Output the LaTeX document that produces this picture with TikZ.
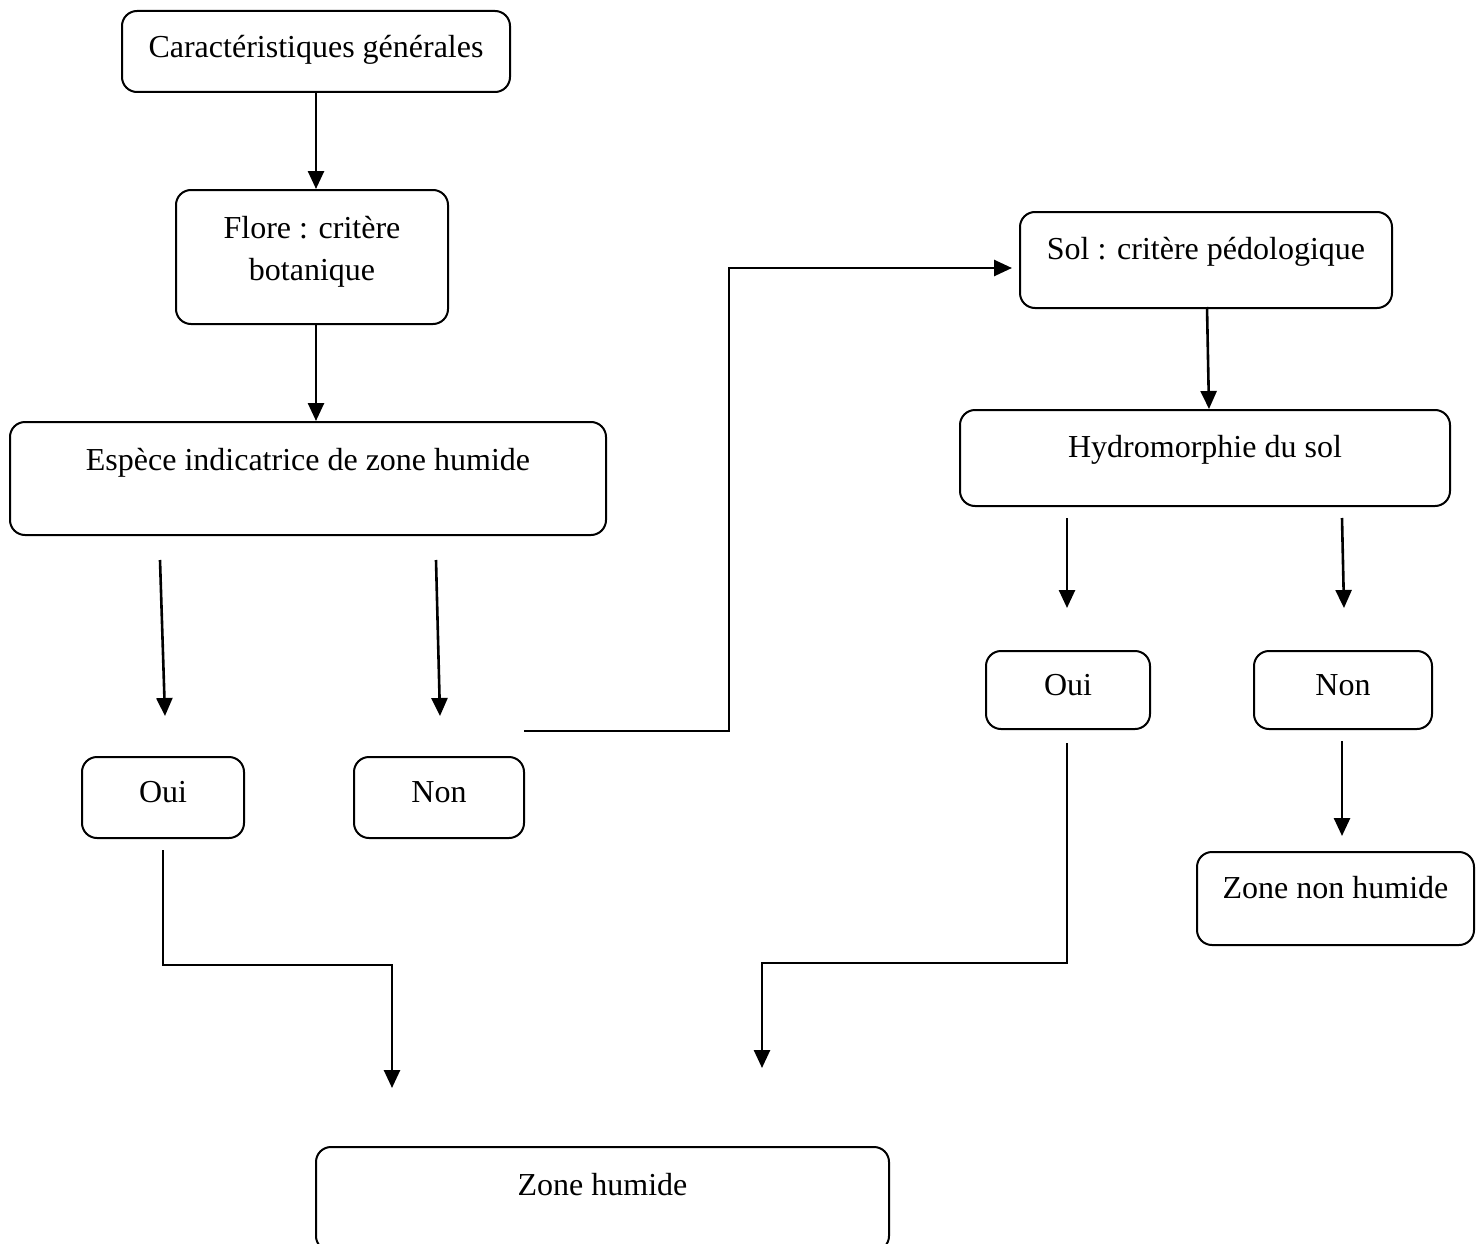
\documentclass[tikz,border=0pt]{standalone}
\usepackage{fontspec}
\setmainfont{Liberation Serif}
\usetikzlibrary{arrows.meta}
\begin{document}
\begin{tikzpicture}[x=1pt,y=-1pt,
  box/.style={draw, line width=2pt, rounded corners=15pt, anchor=north,
    align=center, inner xsep=0pt, text height=24pt,
    font=\fontsize{32}{42}\selectfont},
  flow/.style={line width=2.6pt, -{Triangle[length=18pt,width=16pt]}},
  elbow/.style={flow, rounded corners=0pt}]
\useasboundingbox (0,0) rectangle (1480,1244);

% left branch: botanical criterion
\node[box, minimum width=388pt, inner ysep=23pt, text depth=11pt] (gen) at (316,10) {Caractéristiques générales};
\node[box, minimum width=272pt, inner ysep=24pt, text height=66pt, text depth=20pt] (flore) at (312,189) {Flore : critère\\botanique};
\node[box, minimum width=596pt, inner ysep=24pt, text depth=41pt] (espece) at (308,421) {Espèce indicatrice de zone humide};
\node[box, minimum width=162pt, inner ysep=21pt, text depth=15pt] (ouiL) at (163,756) {Oui};
\node[box, minimum width=170pt, inner ysep=21pt, text depth=15pt] (nonL) at (439,756) {Non};

% right branch: soil criterion
\node[box, minimum width=372pt, inner ysep=23pt, text depth=26pt] (sol) at (1206,211) {Sol : critère pédologique};
\node[box, minimum width=490pt, inner ysep=23pt, text depth=26pt] (hydro) at (1205,409) {Hydromorphie du sol};
\node[box, minimum width=164pt, inner ysep=20pt, text depth=14pt] (ouiR) at (1068,650) {Oui};
\node[box, minimum width=178pt, inner ysep=20pt, text depth=14pt] (nonR) at (1343,650) {Non};
\node[box, minimum width=277pt, inner ysep=22pt, text depth=25pt] (znh) at (1335.5,851) {Zone non humide};

% outcome
\node[box, minimum width=573pt, inner ysep=24pt, text depth=32pt] (zh) at (602.5,1146) {Zone humide};

% free ends of the connectors
\coordinate (eA) at (160,560);  \coordinate (eAt) at (165,716);
\coordinate (eB) at (436,560);  \coordinate (eBt) at (440,716);
\coordinate (nL) at (524,731);  \coordinate (nLm) at (729,731);
\coordinate (solIn) at (1012,268);
\coordinate (hA) at (1067,518); \coordinate (hAt) at (1067,608);
\coordinate (hB) at (1342,518); \coordinate (hBt) at (1344,608);
\coordinate (nR) at (1342,741); \coordinate (nRt) at (1342,836);
\coordinate (oL) at (163,850);  \coordinate (oLt) at (392,1088);
\coordinate (oR) at (1067,743); \coordinate (oRt) at (762,1068);
\coordinate (sA) at (1207,307); \coordinate (sAt) at (1209,409);

% connectors
\draw[flow] (gen.south) -- (gen.south |- flore.north);
\draw[flow] (flore.south -| gen.south) -- (gen.south |- espece.north);
\draw[flow] (eA) -- (eAt);
\draw[flow] (eB) -- (eBt);
\draw[elbow] (nL) -- (nLm) |- (solIn);
\draw[flow] (sA) -- (sAt);
\draw[flow] (hA) -- (hAt);
\draw[flow] (hB) -- (hBt);
\draw[flow] (nR) -- (nRt);
\draw[elbow] (oL) |- (oLt |- 0,965) -- (oLt);
\draw[elbow] (oR) |- (oRt |- 0,963) -- (oRt);
\end{tikzpicture}
\end{document}
